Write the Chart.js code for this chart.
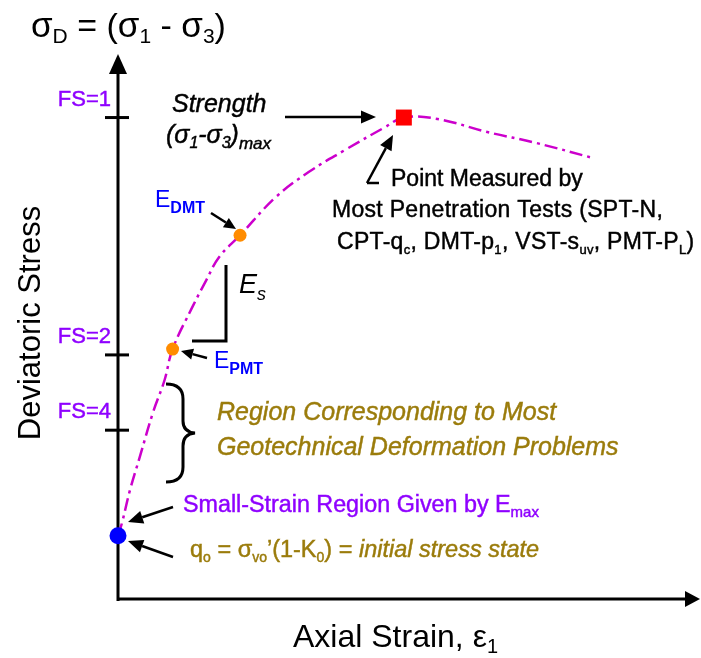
<!DOCTYPE html>
<html>
<head>
<meta charset="utf-8">
<script src="https://cdn.jsdelivr.net/npm/chart.js@4.4.1/dist/chart.umd.min.js"></script>
<style>
  html, body { margin: 0; padding: 0; background: #fff; }
</style>
</head>
<body>
<canvas id="stress-chart" width="701" height="658"></canvas>
<script>
// curve (strain in arbitrary units, stress normalised so the peak = 1)
const strain = [0, 0.014, 0.042, 0.076, 0.122, 0.163, 0.191, 0.260, 0.309, 0.354, 0.427, 0.552, 0.667, 0.795, 0.934, 1.0, 1.118, 1.292, 1.465, 1.663];
const stress = [0.133, 0.160, 0.228, 0.296, 0.388, 0.456, 0.520, 0.607, 0.663, 0.711, 0.756, 0.835, 0.887, 0.933, 0.980, 1.0, 0.997, 0.970, 0.947, 0.916];

// marked points: initial state, E_PMT, E_DMT, strength
const markerNames = ['q0', 'E_PMT', 'E_DMT', 'max'];
const markerStrain = [0, 0.191, 0.427, 1.0];
const markerStress = [0.133, 0.520, 0.756, 1.0];

// factor of safety ticks on the stress axis
const fsLabels = ['FS=1', 'FS=2', 'FS=4'];
const fsStress = [1.0, 0.508, 0.352];

const PURPLE = '#8f00ff';
const GOLD = '#9b7c0c';
const BLUE = '#0000ff';
const SANS = '"Liberation Sans", Arial, Helvetica, sans-serif';

// draws a run of text pieces: [text, size, dy, style]
function rich(ctx, x, y, parts, color, heavy) {
    ctx.save();
    ctx.fillStyle = color;
    ctx.strokeStyle = color;
    ctx.lineWidth = 0.45;
    ctx.textAlign = 'left';
    ctx.textBaseline = 'alphabetic';
    parts.forEach(p => {
        const [txt, size, dy, style] = p;
        ctx.font = (style || '') + ' ' + size + 'px ' + SANS;
        ctx.fillText(txt, x, y + (dy || 0));
        if (heavy) ctx.strokeText(txt, x, y + (dy || 0));
        x += ctx.measureText(txt).width;
    });
    ctx.restore();
}

function arrow(ctx, x1, y1, x2, y2, len, half) {
    const a = Math.atan2(y2 - y1, x2 - x1);
    const bx = x2 - len * Math.cos(a), by = y2 - len * Math.sin(a);
    ctx.beginPath();
    ctx.moveTo(x1, y1);
    ctx.lineTo(bx, by);
    ctx.stroke();
    ctx.beginPath();
    ctx.moveTo(x2, y2);
    ctx.lineTo(bx + half * Math.sin(a), by - half * Math.cos(a));
    ctx.lineTo(bx - half * Math.sin(a), by + half * Math.cos(a));
    ctx.closePath();
    ctx.fill();
}

const axesPlugin = {
    id: 'axes',
    beforeDatasetsDraw(chart) {
        const ctx = chart.ctx;
        const xs = chart.scales.x, ys = chart.scales.y;
        const x0 = xs.getPixelForValue(0), y0 = ys.getPixelForValue(0);
        ctx.save();
        ctx.strokeStyle = '#000';
        ctx.fillStyle = '#000';
        ctx.lineWidth = 3;
        arrow(ctx, x0, y0 + 1, x0, 54, 20, 9);
        arrow(ctx, x0 - 1, y0 - 1, 700, y0 - 1, 15, 8);
        // FS ticks
        fsStress.forEach((v, i) => {
            const py = ys.getPixelForValue(v);
            ctx.strokeStyle = '#000';
            ctx.lineWidth = 3;
            ctx.beginPath();
            ctx.moveTo(x0 - 13, py);
            ctx.lineTo(x0 + 11, py);
            ctx.stroke();
            ctx.font = '22px ' + SANS;
            const w = ctx.measureText(fsLabels[i]).width;
            rich(ctx, x0 - 7 - w, py - 12, [[fsLabels[i], 22]], PURPLE, true);
        });
        ctx.restore();
    },
    afterDraw(chart) {
        const ctx = chart.ctx;
        ctx.save();
        // title
        rich(ctx, 31, 37, [['σ', 35], ['D', 21, 6], [' = (', 34], ['σ', 35], ['1', 21, 6],
            [' - ', 34], ['σ', 35], ['3', 21, 6], [')', 34]], '#000');
        // axis titles
        ctx.save();
        ctx.translate(40, 323);
        ctx.rotate(-Math.PI / 2);
        ctx.font = '31px ' + SANS;
        ctx.fillStyle = '#000';
        ctx.textAlign = 'center';
        ctx.fillText('Deviatoric Stress', 0, 0);
        ctx.restore();
        rich(ctx, 293, 647, [['Axial Strain, ε', 32], ['1', 20, 6]], '#000');

        // strength
        rich(ctx, 172, 112, [['Strength', 25, 0, 'italic']], '#000', true);
        rich(ctx, 166, 143, [['(σ', 25, 0, 'italic'], ['1', 16, 5, 'italic'], ['-σ', 25, 0, 'italic'],
            ['3', 16, 5, 'italic'], [')', 25, 0, 'italic'], ['max', 17, 6, 'italic']], '#000', true);

        ctx.strokeStyle = '#000';
        ctx.fillStyle = '#000';
        ctx.lineWidth = 2.5;
        arrow(ctx, 285, 117, 376, 117, 15, 6.5);

        // point measured by penetration tests
        ctx.beginPath();
        ctx.moveTo(379, 183);
        ctx.lineTo(367, 183);
        ctx.stroke();
        arrow(ctx, 367, 183, 393, 135, 15, 6.5);
        rich(ctx, 391, 186, [['Point Measured by', 23]], '#000', true);
        ctx.letterSpacing = '0.3px';
        rich(ctx, 332, 217, [['Most Penetration Tests (SPT-N,', 23]], '#000', true);
        rich(ctx, 337, 249, [['CPT-q', 23], ['c', 13, 5], [', DMT-p', 23], ['1', 13, 5],
            [', VST-s', 23], ['uv', 13, 5], [', PMT-P', 23], ['L', 13, 5], [')', 23]], '#000', true);
        ctx.letterSpacing = '0px';

        // modulus labels
        rich(ctx, 155, 207, [['E', 23], ['DMT', 16, 6, 'bold']], BLUE);
        arrow(ctx, 211, 213, 236, 229, 12, 5.5);
        rich(ctx, 214, 368, [['E', 23], ['PMT', 16, 6, 'bold']], BLUE);
        arrow(ctx, 207, 358, 181, 351, 12, 5.5);

        // Es slope bracket
        ctx.lineWidth = 3;
        ctx.beginPath();
        ctx.moveTo(226, 265);
        ctx.lineTo(226, 341);
        ctx.lineTo(192, 341);
        ctx.stroke();
        rich(ctx, 239, 293, [['E', 27, 0, 'italic'], ['s', 18, 7, 'italic']], '#000');

        // brace
        ctx.beginPath();
        ctx.moveTo(166, 384);
        ctx.quadraticCurveTo(183, 384, 183, 399);
        ctx.lineTo(183, 421);
        ctx.quadraticCurveTo(183, 432, 195, 433);
        ctx.quadraticCurveTo(183, 434, 183, 446);
        ctx.lineTo(183, 467);
        ctx.quadraticCurveTo(183, 482, 166, 482);
        ctx.stroke();
        rich(ctx, 217, 420, [['Region Corresponding to Most', 25, 0, 'italic']], GOLD, true);
        rich(ctx, 217, 455, [['Geotechnical Deformation Problems', 25, 0, 'italic']], GOLD, true);

        // small strain and initial state
        ctx.lineWidth = 2.5;
        arrow(ctx, 173, 507, 128, 522, 15, 6.5);
        rich(ctx, 183, 512, [['Small-Strain Region Given by E', 23.3], ['max', 15, 5]], PURPLE, true);
        arrow(ctx, 173, 557, 128, 541, 15, 6.5);
        rich(ctx, 190, 557, [['q', 23.5], ['o', 14, 5], [' = σ', 23.5], ['vo', 14, 5], ['’(1-K', 23.5], ['0', 14, 5],
            [') = ', 23.5], ['initial stress state', 23.5, 0, 'italic']], GOLD, true);
        ctx.restore();
    }
};

new Chart(document.getElementById('stress-chart').getContext('2d'), {
    type: 'scatter',
    data: {
        datasets: [{
            label: 'stress-strain',
            data: strain.map((s, i) => ({ x: s, y: stress[i] })),
            showLine: true,
            borderColor: '#cc00cc',
            borderWidth: 2.5,
            borderDash: [13, 5, 3, 5],
            tension: 0.4,
            pointRadius: 0,
            clip: false,
            order: 2
        }, {
            label: 'markers',
            data: markerStrain.map((s, i) => ({ x: s, y: markerStress[i], name: markerNames[i] })),
            pointStyle: ['circle', 'circle', 'circle', 'rect'],
            pointRadius: [8.5, 6.5, 6.5, 11.3],
            backgroundColor: ['#0000ff', '#ff8c00', '#ff8c00', '#ff0000'],
            borderWidth: 0,
            clip: false,
            order: 1
        }]
    },
    options: {
        responsive: false,
        animation: false,
        layout: { padding: { left: 118, right: 7, top: 50, bottom: 58 } },
        plugins: {
            legend: { display: false },
            tooltip: { enabled: false }
        },
        scales: {
            x: { type: 'linear', min: 0, max: 2.0, display: false },
            y: { type: 'linear', min: 0, max: 1.14, display: false }
        }
    },
    plugins: [axesPlugin]
});
</script>
</body>
</html>
